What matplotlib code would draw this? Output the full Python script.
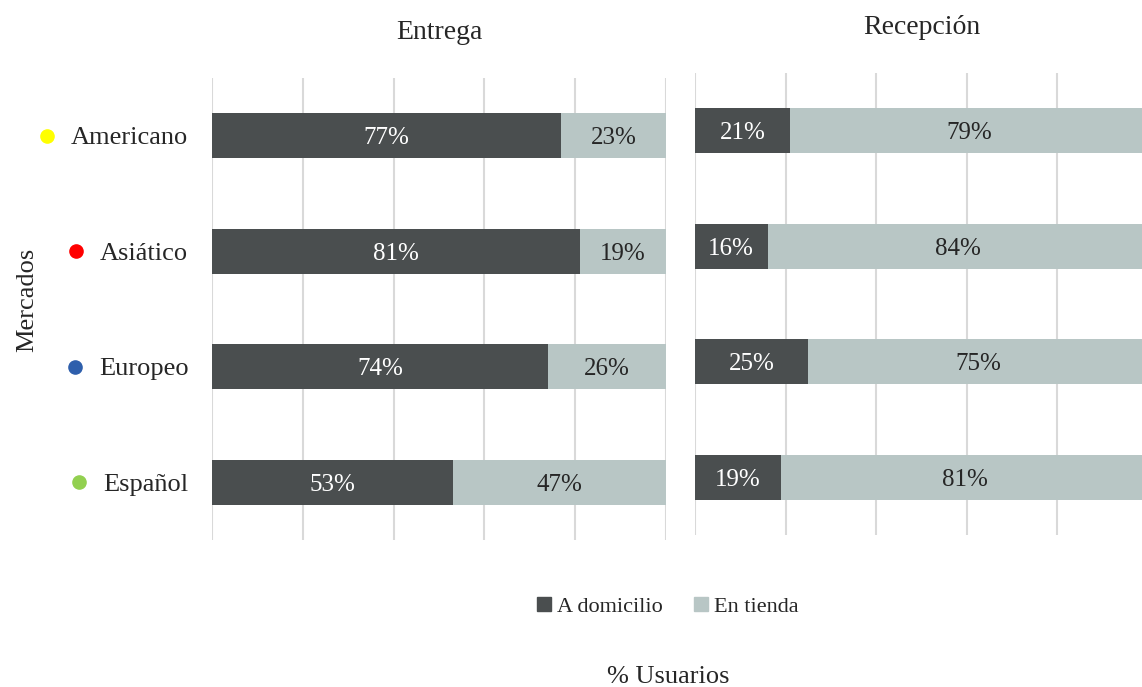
import matplotlib
matplotlib.use('Agg')
import matplotlib.pyplot as plt
import matplotlib.transforms as mtransforms
from matplotlib.patches import Patch
import numpy as np

plt.rcParams['font.family'] = ['Liberation Serif', 'DejaVu Serif']

mercados = ['Americano', 'Asiático', 'Europeo', 'Español']
colores_mercado = ['#ffff00', '#ff0000', '#2e5fac', '#92d050']

entrega_domicilio = [77, 81, 74, 53]
entrega_tienda = [23, 19, 26, 47]
recepcion_domicilio = [21, 16, 25, 19]
recepcion_tienda = [79, 84, 75, 81]

c_oscuro = '#4a4e4f'
c_claro = '#b8c6c5'
c_texto = '#262626'

fig = plt.figure(figsize=(11.42, 6.87), dpi=100)
ax1 = fig.add_axes([0.1856, 0.2140, 0.3975, 0.6725])
ax2 = fig.add_axes([0.6086, 0.2213, 0.3967, 0.6725])

y = np.arange(len(mercados))


def panel(ax, dom, tie, titulo):
    ax.barh(y, dom, height=0.39, color=c_oscuro, zorder=3)
    ax.barh(y, tie, left=dom, height=0.39, color=c_claro, zorder=3)
    for i in range(len(y)):
        ax.text(dom[i] / 2, y[i], f'{dom[i]}%', ha='center', va='center_baseline',
                color='white', fontsize=18, zorder=4)
        ax.text(dom[i] + tie[i] / 2, y[i], f'{tie[i]}%', ha='center',
                va='center_baseline', color=c_texto, fontsize=18, zorder=4)
    ax.set_xlim(0, 100)
    ax.set_ylim(3.5, -0.5)
    ax.set_xticks([0, 20, 40, 60, 80, 100])
    ax.xaxis.grid(True, color='#d9d9d9', linewidth=1.5, zorder=0)
    ax.tick_params(axis='x', length=0, labelbottom=False)
    ax.tick_params(axis='y', length=0)
    for s in ax.spines.values():
        s.set_visible(False)
    ax.set_title(titulo, fontsize=20, color=c_texto, pad=28)


panel(ax1, entrega_domicilio, entrega_tienda, 'Entrega')
panel(ax2, recepcion_domicilio, recepcion_tienda, 'Recepción')

ax1.set_yticks(y)
ax1.set_yticklabels(mercados, fontsize=19, color=c_texto)
ax1.tick_params(axis='y', pad=17)
ax2.set_yticks(y)
ax2.tick_params(axis='y', labelleft=False)

# colored dots just left of each market name
fig.canvas.draw()
renderer = fig.canvas.get_renderer()
trans = mtransforms.blended_transform_factory(ax1.transAxes, ax1.transData)
for lbl, col, yi in zip(ax1.get_yticklabels(), colores_mercado, y):
    bb = lbl.get_window_extent(renderer)
    xa = ax1.transAxes.inverted().transform((bb.x0 - 24, 0))[0]
    ax1.plot([xa], [yi], marker='o', markersize=9.5, color=col,
             transform=trans, clip_on=False, linestyle='none')

fig.text(0.024, 0.563, 'Mercados', rotation=90, ha='center', va='center',
         fontsize=19, color=c_texto)
fig.text(0.585, 1 - 677 / 687, '% Usuarios', ha='center', va='center',
         fontsize=19, color=c_texto)

handles = [Patch(color=c_oscuro, label='A domicilio'),
           Patch(color=c_claro, label='En tienda')]
fig.legend(handles=handles, loc='center', bbox_to_anchor=(0.585, 1 - 607 / 687),
           ncol=2, frameon=False, fontsize=16, handlelength=0.6, handleheight=0.6,
           handletextpad=0.3, columnspacing=1.4, labelcolor=c_texto)

fig.savefig('out.png', dpi=100)
